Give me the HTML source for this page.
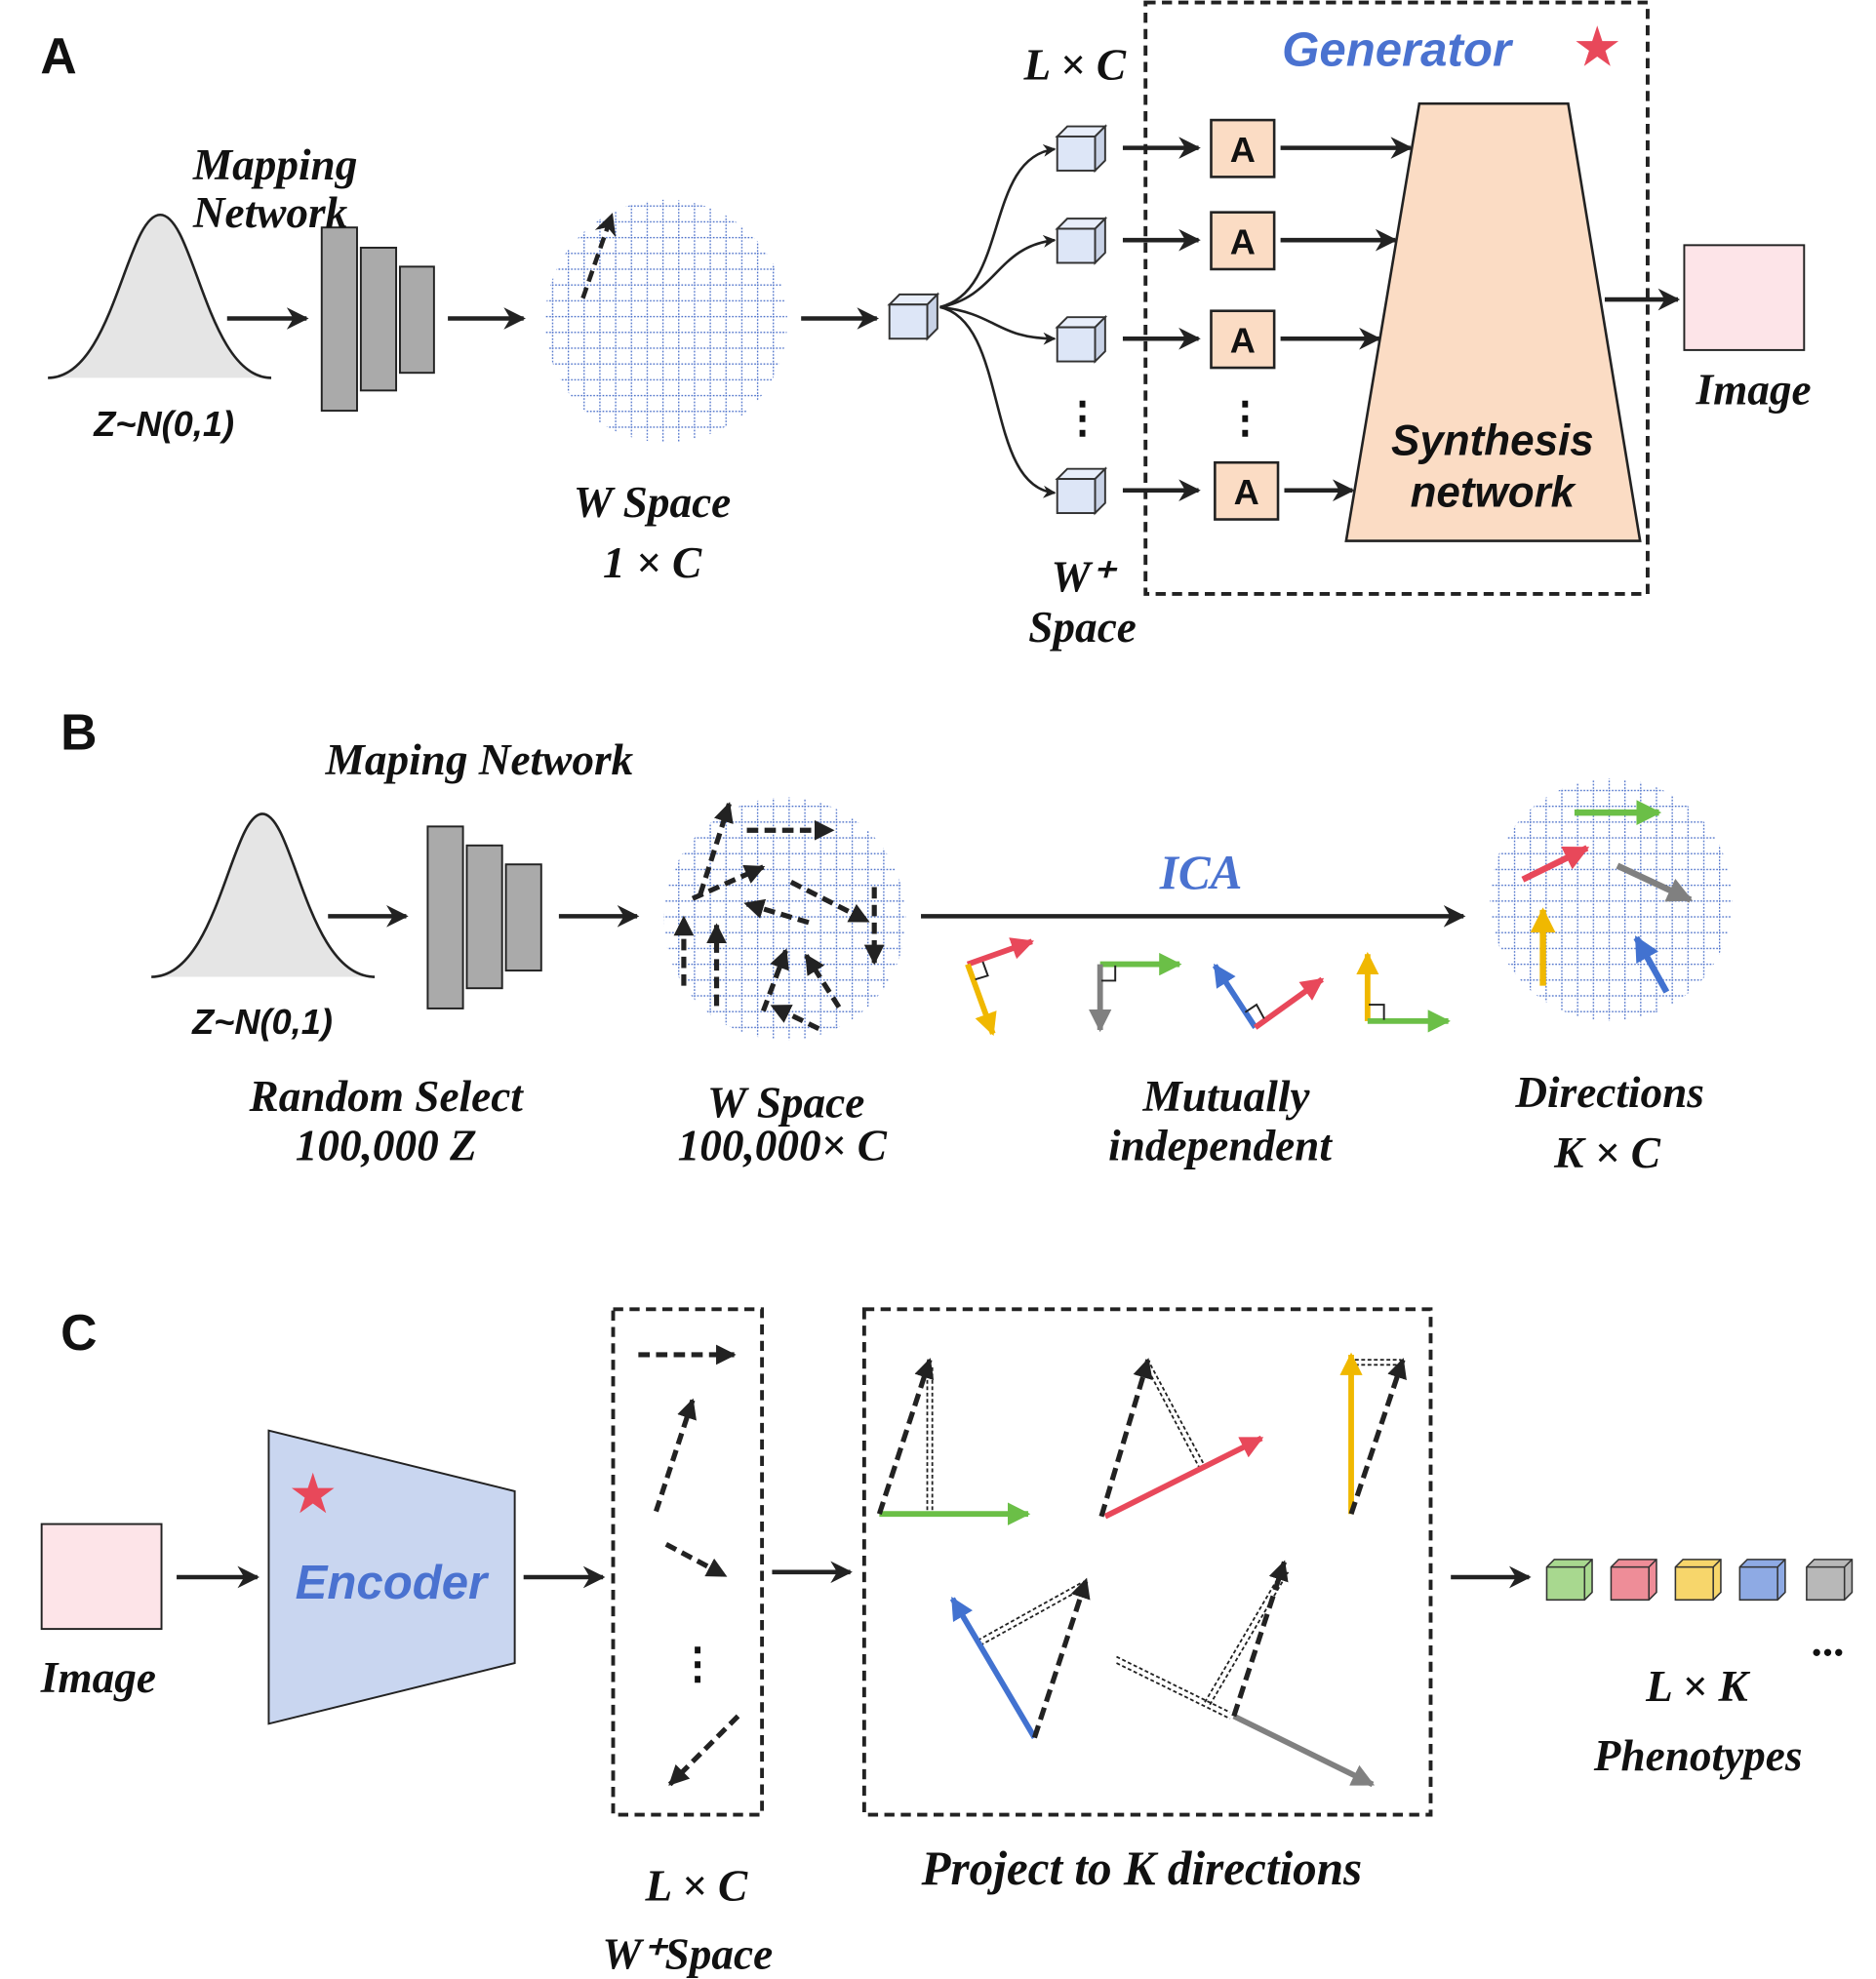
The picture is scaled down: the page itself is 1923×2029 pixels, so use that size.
<!DOCTYPE html>
<html><head><meta charset="utf-8"><style>html,body{margin:0;padding:0;background:#fff}svg{display:block}
.s{font-family:"Liberation Serif",serif;font-style:italic;font-weight:bold;fill:#111}
.b{font-family:"Liberation Sans",sans-serif;font-weight:bold;fill:#111}
</style></head><body>
<svg width="1923" height="2029" viewBox="0 0 1487 1566" preserveAspectRatio="none" xmlns="http://www.w3.org/2000/svg">
<defs>
<marker id="ah" viewBox="0 0 10 10" refX="9" refY="5" markerWidth="5" markerHeight="5" orient="auto" markerUnits="strokeWidth"><path d="M0,0L10,5L0,10L3,5z" fill="#222"/></marker>
<marker id="ak" viewBox="0 0 10 10" refX="9" refY="5" markerWidth="4" markerHeight="4" orient="auto" markerUnits="strokeWidth"><path d="M0,0L10,5L0,10z" fill="#222"/></marker>
<marker id="ag" viewBox="0 0 10 10" refX="9" refY="5" markerWidth="4" markerHeight="4" orient="auto" markerUnits="strokeWidth"><path d="M0,0L10,5L0,10z" fill="#6bbf47"/></marker>
<marker id="ar" viewBox="0 0 10 10" refX="9" refY="5" markerWidth="4" markerHeight="4" orient="auto" markerUnits="strokeWidth"><path d="M0,0L10,5L0,10z" fill="#e8485a"/></marker>
<marker id="ay" viewBox="0 0 10 10" refX="9" refY="5" markerWidth="4" markerHeight="4" orient="auto" markerUnits="strokeWidth"><path d="M0,0L10,5L0,10z" fill="#f0b800"/></marker>
<marker id="ab" viewBox="0 0 10 10" refX="9" refY="5" markerWidth="4" markerHeight="4" orient="auto" markerUnits="strokeWidth"><path d="M0,0L10,5L0,10z" fill="#4272d0"/></marker>
<marker id="ay2" viewBox="0 0 10 10" refX="9" refY="5" markerWidth="4" markerHeight="4" orient="auto" markerUnits="strokeWidth"><path d="M0,0L10,5L0,10z" fill="#808080"/></marker>
<pattern id="grid" width="12.5" height="12.5" patternUnits="userSpaceOnUse">
<line x1="0" y1="0.5" x2="12.5" y2="0.5" stroke="#4a6fc9" stroke-width="1" stroke-dasharray="1.3 1.3"/>
<line x1="0.5" y1="0" x2="0.5" y2="12.5" stroke="#4a6fc9" stroke-width="1" stroke-dasharray="1.3 1.3"/>
</pattern>
<g id="cube"><path d="M0,8L8,0H38L30,8z" fill="#e8eefa" stroke="#333" stroke-width="1.5"/><path d="M30,8L38,0V27L30,35z" fill="#c8d2e6" stroke="#333" stroke-width="1.5"/><rect x="0" y="8" width="30" height="27" fill="#dde6f7" stroke="#333" stroke-width="1.5"/></g>
</defs>
<g stroke="#222" stroke-width="3.5" fill="none">
<path d="M38,299 C90,299 100,170 127,170 C154,170 164,299 215,299" fill="#e5e5e5" stroke-width="2"/>
<line x1="180" y1="252" x2="243" y2="252" marker-end="url(#ah)"/>
<rect x="255" y="180" width="28" height="145" fill="#aaa" stroke-width="1.5"/>
<rect x="286" y="196" width="28" height="113" fill="#aaa" stroke-width="1.5"/>
<rect x="317" y="211" width="27" height="84" fill="#aaa" stroke-width="1.5"/>
<line x1="355" y1="252" x2="415" y2="252" marker-end="url(#ah)"/>
<circle cx="528" cy="254" r="96" fill="url(#grid)" stroke="none"/>
<line x1="462" y1="236" x2="485" y2="170" stroke-dasharray="9 5" marker-end="url(#ah)"/>
<line x1="635" y1="252" x2="695" y2="252" marker-end="url(#ah)"/>
<path d="M745,243 C800,230 780,125 836,118" marker-end="url(#ah)" stroke-width="2"/>
<path d="M745,243 C790,235 790,195 836,190" marker-end="url(#ah)" stroke-width="2"/>
<path d="M745,243 C790,248 790,268 836,268" marker-end="url(#ah)" stroke-width="2"/>
<path d="M745,243 C800,255 780,385 836,390" marker-end="url(#ah)" stroke-width="2"/>
<line x1="890" y1="117" x2="950" y2="117" marker-end="url(#ah)"/>
<line x1="890" y1="190" x2="950" y2="190" marker-end="url(#ah)"/>
<line x1="890" y1="268" x2="950" y2="268" marker-end="url(#ah)"/>
<line x1="890" y1="388" x2="950" y2="388" marker-end="url(#ah)"/>
<rect x="908" y="2" width="398" height="468" stroke-dasharray="8 5" stroke-width="3"/>
<path d="M1125,82H1243L1300,428H1067z" fill="#fbdcc4" stroke-width="2"/>
<rect x="960" y="95" width="50" height="45" fill="#fbdcc4" stroke-width="2"/>
<rect x="960" y="168" width="50" height="45" fill="#fbdcc4" stroke-width="2"/>
<rect x="960" y="246" width="50" height="45" fill="#fbdcc4" stroke-width="2"/>
<rect x="963" y="366" width="50" height="45" fill="#fbdcc4" stroke-width="2"/>
<line x1="1015" y1="117" x2="1118" y2="117" marker-end="url(#ah)"/>
<line x1="1015" y1="190" x2="1106" y2="190" marker-end="url(#ah)"/>
<line x1="1015" y1="268" x2="1093" y2="268" marker-end="url(#ah)"/>
<line x1="1018" y1="388" x2="1072" y2="388" marker-end="url(#ah)"/>
<line x1="1272" y1="237" x2="1330" y2="237" marker-end="url(#ah)"/>
<rect x="1335" y="194" width="95" height="83" fill="#fde4e8" stroke-width="1.5"/>
<path d="M120,773 C173,773 183,644 208,644 C233,644 243,773 297,773" fill="#e5e5e5" stroke-width="2"/>
<line x1="260" y1="725" x2="322" y2="725" marker-end="url(#ah)"/>
<rect x="339" y="654" width="28" height="144" fill="#aaa" stroke-width="1.5"/>
<rect x="370" y="669" width="28" height="113" fill="#aaa" stroke-width="1.5"/>
<rect x="401" y="684" width="28" height="84" fill="#aaa" stroke-width="1.5"/>
<line x1="443" y1="725" x2="505" y2="725" marker-end="url(#ah)"/>
<circle cx="622" cy="727" r="96" fill="url(#grid)" stroke="none"/>
<g stroke-dasharray="9 5">
<line x1="555" y1="708" x2="578" y2="636" marker-end="url(#ak)" stroke-width="4"/>
<line x1="592" y1="657" x2="660" y2="657" marker-end="url(#ak)" stroke-width="4"/>
<line x1="549" y1="711" x2="605" y2="686" marker-end="url(#ak)" stroke-width="4"/>
<line x1="627" y1="698" x2="688" y2="729" marker-end="url(#ak)" stroke-width="4"/>
<line x1="693" y1="702" x2="693" y2="762" marker-end="url(#ak)" stroke-width="4"/>
<line x1="641" y1="730" x2="591" y2="715" marker-end="url(#ak)" stroke-width="4"/>
<line x1="542" y1="780" x2="542" y2="726" marker-end="url(#ak)" stroke-width="4"/>
<line x1="568" y1="796" x2="568" y2="732" marker-end="url(#ak)" stroke-width="4"/>
<line x1="605" y1="800" x2="623" y2="752" marker-end="url(#ak)" stroke-width="4"/>
<line x1="665" y1="797" x2="639" y2="756" marker-end="url(#ak)" stroke-width="4"/>
<line x1="649" y1="814" x2="612" y2="796" marker-end="url(#ak)" stroke-width="4"/>
</g>
<line x1="730" y1="725" x2="1160" y2="725" marker-end="url(#ah)"/>
<line x1="767" y1="763" x2="818" y2="745" stroke="#e8485a" stroke-width="4.5" marker-end="url(#ar)"/>
<line x1="767" y1="763" x2="787" y2="818" stroke="#f0b800" stroke-width="4.5" marker-end="url(#ay)"/>
<path d="M773,775 L783,772 L779,761" stroke-width="1.5"/>
<line x1="872" y1="763" x2="935" y2="763" stroke="#6bbf47" stroke-width="4.5" marker-end="url(#ag)"/>
<line x1="872" y1="763" x2="872" y2="815" stroke="#808080" stroke-width="4.5" marker-end="url(#ay2)"/>
<path d="M873,776 H884 V764" stroke-width="1.5"/>
<line x1="995" y1="813" x2="963" y2="764" stroke="#4272d0" stroke-width="4.5" marker-end="url(#ab)"/>
<line x1="995" y1="813" x2="1048" y2="775" stroke="#e8485a" stroke-width="4.5" marker-end="url(#ar)"/>
<path d="M987,801 L996,795 L1002,806" stroke-width="1.5"/>
<line x1="1084" y1="808" x2="1084" y2="755" stroke="#f0b800" stroke-width="4.5" marker-end="url(#ay)"/>
<line x1="1084" y1="808" x2="1148" y2="808" stroke="#6bbf47" stroke-width="4.5" marker-end="url(#ag)"/>
<path d="M1085,795 H1097 V807" stroke-width="1.5"/>
<circle cx="1277" cy="712" r="96" fill="url(#grid)" stroke="none"/>
<line x1="1248" y1="643" x2="1315" y2="643" stroke="#6bbf47" stroke-width="5" marker-end="url(#ag)"/>
<line x1="1207" y1="696" x2="1258" y2="671" stroke="#e8485a" stroke-width="5" marker-end="url(#ar)"/>
<line x1="1282" y1="685" x2="1340" y2="712" stroke="#808080" stroke-width="5" marker-end="url(#ay2)"/>
<line x1="1223" y1="780" x2="1223" y2="720" stroke="#f0b800" stroke-width="5" marker-end="url(#ay)"/>
<line x1="1321" y1="785" x2="1297" y2="742" stroke="#4272d0" stroke-width="5" marker-end="url(#ab)"/>
<rect x="33" y="1206" width="95" height="83" fill="#fde4e8" stroke-width="1.5"/>
<line x1="140" y1="1248" x2="204" y2="1248" marker-end="url(#ah)"/>
<path d="M213,1132L408,1180V1316L213,1364z" fill="#c9d6f0" stroke-width="1.5"/>
<line x1="415" y1="1248" x2="478" y2="1248" marker-end="url(#ah)"/>
<rect x="486" y="1036" width="118" height="400" stroke-dasharray="8 5" stroke-width="3"/>
<g stroke-dasharray="9 5" stroke-width="4">
<line x1="506" y1="1072" x2="582" y2="1072" marker-end="url(#ak)"/>
<line x1="520" y1="1196" x2="549" y2="1108" marker-end="url(#ak)"/>
<line x1="528" y1="1222" x2="575" y2="1247" marker-end="url(#ak)"/>
<line x1="585" y1="1358" x2="531" y2="1412" marker-end="url(#ak)"/>
</g>
<line x1="612" y1="1244" x2="674" y2="1244" marker-end="url(#ah)"/>
<rect x="685" y="1036" width="449" height="400" stroke-dasharray="8 5" stroke-width="3"/>
<line x1="1150" y1="1248" x2="1212" y2="1248" marker-end="url(#ah)"/>
<g stroke-width="1.4" stroke-dasharray="3 2">
<line x1="735" y1="1082" x2="735" y2="1200"/><line x1="739" y1="1082" x2="739" y2="1200"/>
<line x1="908" y1="1080" x2="952" y2="1164"/><line x1="912" y1="1080" x2="956" y2="1162"/>
<line x1="1074" y1="1076" x2="1110" y2="1076"/><line x1="1074" y1="1080" x2="1110" y2="1080"/>
<line x1="775" y1="1298" x2="858" y2="1252"/><line x1="777" y1="1302" x2="860" y2="1256"/>
<line x1="955" y1="1347" x2="1017" y2="1242"/><line x1="959" y1="1349" x2="1021" y2="1244"/>
<line x1="885" y1="1311" x2="975" y2="1355"/><line x1="885" y1="1316" x2="975" y2="1360"/>
</g>
<line x1="697" y1="1198" x2="815" y2="1198" stroke="#6bbf47" stroke-width="4.5" marker-end="url(#ag)"/>
<line x1="697" y1="1198" x2="737" y2="1076" stroke-dasharray="10 5" stroke-width="4" marker-end="url(#ak)"/>
<line x1="876" y1="1200" x2="1000" y2="1138" stroke="#e8485a" stroke-width="4.5" marker-end="url(#ar)"/>
<line x1="873" y1="1200" x2="910" y2="1076" stroke-dasharray="10 5" stroke-width="4" marker-end="url(#ak)"/>
<line x1="1071" y1="1198" x2="1071" y2="1072" stroke="#f0b800" stroke-width="4.5" marker-end="url(#ay)"/>
<line x1="1071" y1="1198" x2="1112" y2="1076" stroke-dasharray="10 5" stroke-width="4" marker-end="url(#ak)"/>
<line x1="820" y1="1375" x2="755" y2="1265" stroke="#4272d0" stroke-width="4.5" marker-end="url(#ab)"/>
<line x1="820" y1="1375" x2="861" y2="1250" stroke-dasharray="10 5" stroke-width="4" marker-end="url(#ak)"/>
<line x1="978" y1="1358" x2="1088" y2="1412" stroke="#808080" stroke-width="4.5" marker-end="url(#ay2)"/>
<line x1="978" y1="1358" x2="1018" y2="1236" stroke-dasharray="10 5" stroke-width="4" marker-end="url(#ak)"/>
</g>
<use href="#cube" x="705" y="233"/>
<use href="#cube" x="838" y="100"/>
<use href="#cube" x="838" y="173"/>
<use href="#cube" x="838" y="251"/>
<use href="#cube" x="838" y="371"/>
<g font-size="34" class="b" text-anchor="middle">
<text x="858" y="342" class="b">⋮</text><text x="987" y="342" class="b">⋮</text>
<text x="553" y="1328" class="b">⋮</text>
</g>
<g stroke="#333" stroke-width="1.2">
<path d="M1226,1240l6,-6h30v26l-6,6h-30z" fill="#a8d88f"/><path d="M1226,1240h30v26M1256,1240l6,-6" fill="none"/>
<path d="M1277,1240l6,-6h30v26l-6,6h-30z" fill="#ee8d98"/><path d="M1277,1240h30v26M1307,1240l6,-6" fill="none"/>
<path d="M1328,1240l6,-6h30v26l-6,6h-30z" fill="#f7d66b"/><path d="M1328,1240h30v26M1358,1240l6,-6" fill="none"/>
<path d="M1379,1240l6,-6h30v26l-6,6h-30z" fill="#8eaae4"/><path d="M1379,1240h30v26M1409,1240l6,-6" fill="none"/>
<path d="M1432,1240l6,-6h30v26l-6,6h-30z" fill="#b8b8b8"/><path d="M1432,1240h30v26M1462,1240l6,-6" fill="none"/>
</g>
<text x="32" y="58" class="b" font-size="40">A</text>
<text x="48" y="593" class="b" font-size="40">B</text>
<text x="48" y="1068" class="b" font-size="40">C</text>
<text x="130" y="345" class="b" font-size="28" font-style="italic" text-anchor="middle">Z~N(0,1)</text>
<text x="208" y="818" class="b" font-size="28" font-style="italic" text-anchor="middle">Z~N(0,1)</text>
<g class="s" font-size="35">
<text x="153" y="142">Mapping</text><text x="153" y="180">Network</text>
<text x="517" y="409" text-anchor="middle">W Space</text>
<text x="517" y="457" text-anchor="middle">1 × C</text>
<text x="852" y="63" text-anchor="middle">L × C</text>
<text x="858" y="468" text-anchor="middle">W⁺</text>
<text x="858" y="508" text-anchor="middle">Space</text>
<text x="1390" y="320" text-anchor="middle">Image</text>
<text x="380" y="613" text-anchor="middle">Maping Network</text>
<text x="306" y="879" text-anchor="middle">Random Select</text>
<text x="306" y="918" text-anchor="middle">100,000 Z</text>
<text x="623" y="884" text-anchor="middle">W Space</text>
<text x="620" y="918" text-anchor="middle">100,000× C</text>
<text x="972" y="879" text-anchor="middle">Mutually</text>
<text x="967" y="918" text-anchor="middle">independent</text>
<text x="1276" y="876" text-anchor="middle">Directions</text>
<text x="1274" y="924" text-anchor="middle">K × C</text>
<text x="78" y="1339" text-anchor="middle">Image</text>
<text x="552" y="1504" text-anchor="middle">L × C</text>
<text x="545" y="1558" text-anchor="middle">W⁺Space</text>
<text x="905" y="1491" text-anchor="middle" font-size="38">Project to K directions</text>
<text x="1345" y="1346" text-anchor="middle">L × K</text>
<text x="1346" y="1401" text-anchor="middle">Phenotypes</text>
<text x="1450" y="1310" text-anchor="middle">...</text>
<text x="952" y="703" text-anchor="middle" style="fill:#4a72d0" font-size="38">ICA</text>
</g>
<g class="b" font-size="34" font-style="italic">
<text x="1107" y="52" text-anchor="middle" style="fill:#4a72d0" font-size="38">Generator</text>
<text x="1183" y="360" text-anchor="middle">Synthesis</text>
<text x="1183" y="401" text-anchor="middle">network</text>
<text x="310" y="1265" text-anchor="middle" style="fill:#4a72d0" font-size="38">Encoder</text>
</g>
<g class="b" font-size="28" text-anchor="middle">
<text x="985" y="128">A</text><text x="985" y="201">A</text><text x="985" y="279">A</text><text x="988" y="399">A</text>
</g>
<text x="1266" y="52" font-size="44" fill="#e8485a" text-anchor="middle" font-family="DejaVu Sans">★</text>
<text x="248" y="1197" font-size="44" fill="#e8485a" text-anchor="middle" font-family="DejaVu Sans">★</text>
</svg>
</body></html>
